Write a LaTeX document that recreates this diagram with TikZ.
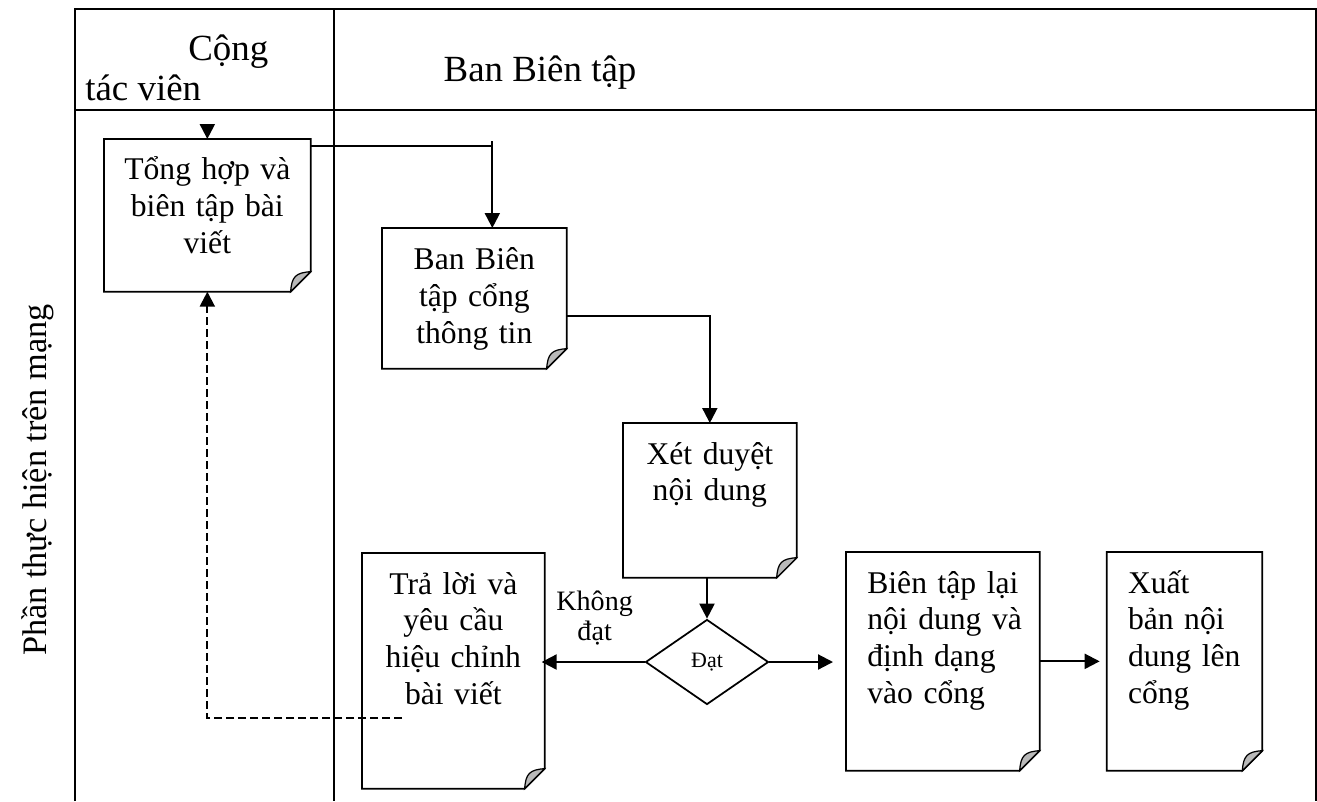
\documentclass[tikz,border=0pt]{standalone}
\usepackage{fontspec}
\setmainfont{Liberation Serif}
\usetikzlibrary{arrows.meta,shapes.geometric,positioning}

\begin{document}
\begin{tikzpicture}[
    x=0.02cm, y=-0.02cm,
    lane/.style={line width=1.4pt},
    headText/.style={font=\fontsize{21}{23}\selectfont, inner sep=0pt},
    doc/.style={inner sep=0pt},
    docText/.style={font=\fontsize{18}{21}\selectfont, inner sep=0pt, align=center},
    arr/.style={->, >={Triangle[length=0.3cm, width=0.3cm]}, line width=1.2pt},
    fold/.style={fill=gray!55, line width=0.7pt}
    ]
    \useasboundingbox (0,0) rectangle (1317,801);

    % swimlane frame
    \draw[lane] (75,801) -- (75,9) -- (1316,9) -- (1316,801);
    \draw[lane] (75,110) -- (1316,110);
    \draw[lane] (334,9) -- (334,801);

    \node[headText, anchor=base west] (cong) at (188,60) {Cộng};
    \node[headText, anchor=base west] (tacvien) at (85,100) {tác viên};
    \node[headText, anchor=base] (banHead) at (540,81) {Ban Biên tập};
    \node[rotate=90, font=\fontsize{19.5}{22}\selectfont] (side) at (38,480) {Phần thực hiện trên mạng};

    % document boxes
    \node[doc, minimum width=4.12cm, minimum height=3.04cm, anchor=north west] (tong) at (104,139) {};
    \node[doc, minimum width=3.68cm, minimum height=2.8cm, anchor=north west] (bbt) at (382,228) {};
    \node[doc, minimum width=3.46cm, minimum height=3.08cm, anchor=north west] (xet) at (623,423) {};
    \node[doc, minimum width=3.64cm, minimum height=4.7cm, anchor=north west] (tra) at (362,553) {};
    \node[doc, minimum width=3.86cm, minimum height=4.36cm, anchor=north west] (bien) at (846,552) {};
    \node[doc, minimum width=3.1cm, minimum height=4.36cm, right=1.34cm of bien] (xuat) {};

    \node[docText, text width=4cm, anchor=base] (tongTxt) at ([yshift=-0.82cm]tong.north) {Tổng hợp và\\biên tập bài\\viết};
    \node[docText, text width=3.5cm, anchor=base] (bbtTxt) at ([yshift=-0.84cm]bbt.north) {Ban Biên\\tập cổng\\thông tin};
    \node[docText, text width=3.3cm, anchor=base] (xetTxt) at ([yshift=-0.82cm]xet.north) {Xét duyệt\\nội dung};
    \node[docText, text width=3.5cm, anchor=base] (traTxt) at ([yshift=-0.82cm]tra.north) {Trả lời và\\yêu cầu\\hiệu chỉnh\\bài viết};
    \node[docText, text width=3.4cm, align=left, anchor=base west] (bienTxt) at ([xshift=0.42cm, yshift=-0.82cm]bien.north west) {Biên tập lại\\nội dung và\\định dạng\\vào cổng};
    \node[docText, text width=2.6cm, align=left, anchor=base west] (xuatTxt) at ([xshift=0.42cm, yshift=-0.82cm]xuat.north west) {Xuất\\bản nội\\dung lên\\cổng};

    \foreach \n in {tong, bbt, xet, tra, bien, xuat} {
        \draw[line width=1pt] (\n.north west) -- (\n.north east) -- ([yshift=0.4cm]\n.south east) -- ([xshift=-0.4cm]\n.south east) -- (\n.south west) -- cycle;
        \draw[fold] ([yshift=0.4cm]\n.south east) .. controls +(-0.3cm,-0.02cm) and +(0.02cm,0.3cm) .. ([xshift=-0.4cm]\n.south east) -- cycle;
    }

    \node[draw, diamond, minimum width=2.46cm, minimum height=1.7cm, inner sep=0pt, line width=1pt, font=\fontsize{12.5}{14}\selectfont] (dec) at (707,662) {Đạt};

    % connectors
    \draw[arr] ([yshift=0.3cm]tong.north) -- (tong.north);
    \coordinate (bbtIn) at ([xshift=0.36cm]bbt.north);
    \coordinate (tick) at (bbtIn |- tong.north east);
    \draw[arr] ([yshift=-0.14cm]tong.north east) -| (bbtIn);
    \draw[line width=1.2pt] ([yshift=-0.04cm]tick) -- ++(0,-0.14cm);
    \draw[arr] ([yshift=-0.36cm]bbt.east) -| (xet.north);
    \draw[arr] (dec.north |- xet.south) -- (dec.north);
    \draw[arr, shorten >=-0.06cm] (dec.west) -- (dec.west -| tra.east)
        node[midway, above=0.32cm, inner sep=0pt, align=center, font=\fontsize{16}{17}\selectfont] (khong) {Không\\đạt};
    \draw[arr, shorten >=0.26cm] (dec.east) -- (dec.east -| bien.west);
    \draw[arr, shorten >=0.14cm] (bien.east) -- (xuat.west);

    \coordinate (retStart) at (402,718);
    \draw[arr, dash pattern=on 0.16cm off 0.08cm] (retStart) -| (tong.south);
\end{tikzpicture}
\end{document}
